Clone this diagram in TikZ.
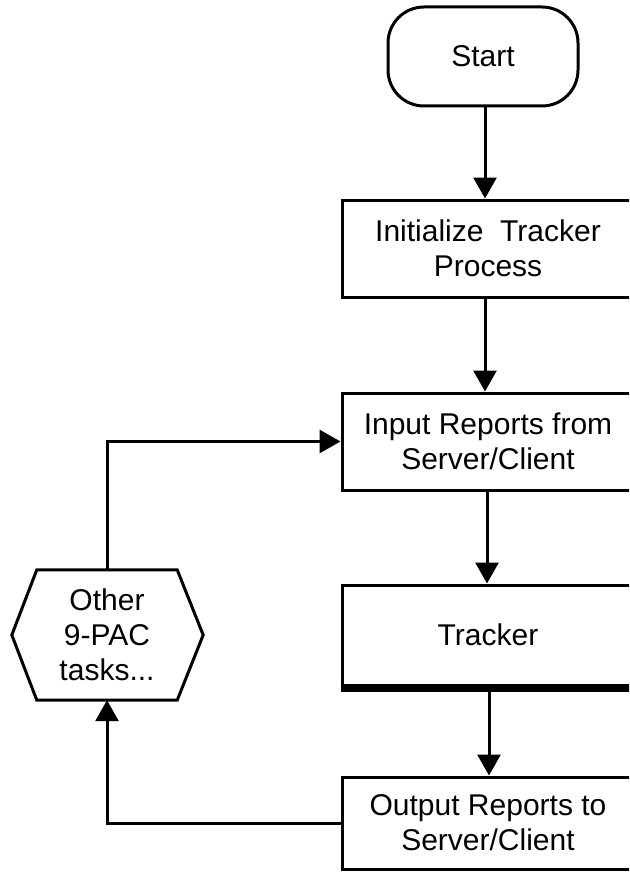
\documentclass[tikz,border=0pt]{standalone}
\usepackage{fontspec}
\setmainfont{Liberation Sans}
\usetikzlibrary{arrows.meta}
\begin{document}
\begin{tikzpicture}[x=1pt,y=-1pt,
  every node/.style={font=\fontsize{30}{35}\selectfont, align=center, inner sep=0pt},
  box/.style={draw, line width=3pt, minimum width=292pt},
  arr/.style={line width=3pt, -{Triangle[width=23pt,length=21pt]}},
  ln/.style={line width=3pt}]
\useasboundingbox (0,0) rectangle (629,872);
\fill[white] (0,0) rectangle (629,872);
\clip (0,0) rectangle (629,872);
\node[draw, line width=3pt, rounded corners=36pt, minimum width=190pt, minimum height=99pt] (start) at (483,56.5) {Start};
\node[box, minimum height=97pt] (init) at (488,248.5) {Initialize\ \ Tracker\\Process};
\node[box, minimum height=97pt] (input) at (488,441.5) {Input Reports from\\Server/Client};
\node[box, minimum height=100pt] (tracker) at (488,635) {Tracker};
\node[box, minimum height=92pt] (output) at (488,823) {Output Reports to\\Server/Client};
\node[minimum width=140pt, minimum height=130pt] (hex) at (107,635) {Other\\9-PAC\\tasks...};
\draw[ln, line join=miter] (hex.north west) -- (hex.north east) -- ([xshift=26pt]hex.east) -- (hex.south east) -- (hex.south west) -- ([xshift=-25pt]hex.west) -- cycle;
\draw[line width=5pt] ([yshift=-3pt]tracker.south west) -- ([yshift=-3pt]tracker.south east);
\draw[arr] (start.south -| 485,0) -- (init.north -| 485,0);
\draw[arr] (init.south -| 485,0) -- (input.north -| 485,0);
\draw[arr] (input.south -| 487,0) -- (tracker.north -| 487,0);
\draw[arr] ([yshift=-5pt]tracker.south -| 489,0) -- (output.north -| 489,0);
\draw[arr] (hex.north) |- (input.west);
\draw[arr] (output.west) -| (hex.south);
\end{tikzpicture}
\end{document}
